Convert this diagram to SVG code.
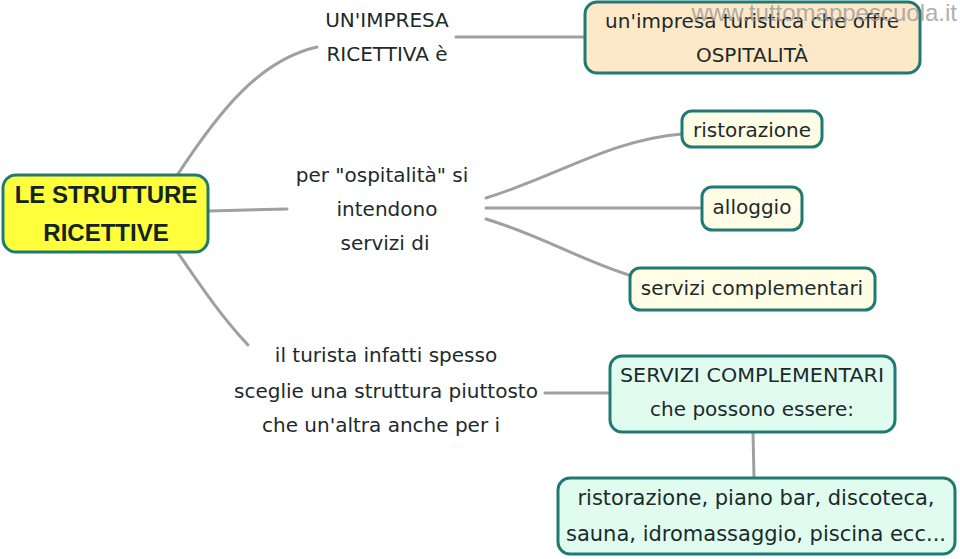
<svg xmlns="http://www.w3.org/2000/svg" width="960" height="559" viewBox="0 0 960 559">
<style>
.t{font-family:"DejaVu Sans","Liberation Sans",sans-serif;font-size:20px;fill:#1c2a2c;text-anchor:middle}
.l{font-size:21px}
.b{font-family:"Liberation Sans",Arial,sans-serif;font-weight:bold;font-size:24px;fill:#14241c}
.node{stroke:#1f7a74;stroke-width:3}
.c{fill:none;stroke:#a0a0a0;stroke-width:3;stroke-linecap:round}
.wm{font-family:"Liberation Sans",Arial,sans-serif;font-size:24px;fill:#9a9a9a;fill-opacity:0.8}
</style>
<rect width="960" height="559" fill="#ffffff"/>
<g id="connectors">
<path class="c" d="M178,174 C220,110 260,60 317,47"/>
<path class="c" d="M456,37 L585,37"/>
<path class="c" d="M209,211 L287,209"/>
<path class="c" d="M486,198 C560,175 610,140 682,134"/>
<path class="c" d="M486,208 L702,208"/>
<path class="c" d="M486,219 C540,235 580,260 632,276"/>
<path class="c" d="M178,253 C200,285 220,315 248,345"/>
<path class="c" d="M545,393 L610,393"/>
<path class="c" d="M753,432 L754,478"/>
</g>
<g id="center">
<rect class="node" x="3" y="175" width="205" height="77" rx="13" fill="#ffff3c"/>
<text class="t b" x="106" y="203">LE STRUTTURE</text>
<text class="t b" x="106" y="241">RICETTIVE</text>
</g>
<g id="lbl-impresa">
<text class="t" x="387" y="27">UN'IMPRESA</text>
<text class="t" x="387" y="61">RICETTIVA è</text>
</g>
<g id="impresa">
<rect class="node" x="585" y="2" width="335" height="71" rx="12" fill="#fde8c8"/>
<text class="t" x="752" y="28">un'impresa turistica che offre</text>
<text class="t" x="752" y="62">OSPITALITÀ</text>
</g>
<g id="lbl-ospitalita">
<text class="t" x="382" y="182">per "ospitalità" si</text>
<text class="t" x="387" y="216">intendono</text>
<text class="t" x="385" y="250">servizi di</text>
</g>
<g id="ristorazione">
<rect class="node" x="682" y="111" width="140" height="36" rx="10" fill="#fffde5"/>
<text class="t" x="752" y="137">ristorazione</text>
</g>
<g id="alloggio">
<rect class="node" x="702" y="187" width="100" height="43" rx="10" fill="#fffde5"/>
<text class="t" x="752" y="214">alloggio</text>
</g>
<g id="servizi">
<rect class="node" x="630" y="268" width="245" height="42" rx="10" fill="#fffde5"/>
<text class="t" x="752" y="295">servizi complementari</text>
</g>
<g id="lbl-turista">
<text class="t" x="386" y="362">il turista infatti spesso</text>
<text class="t" x="386" y="398">sceglie una struttura piuttosto</text>
<text class="t" x="381" y="432">che un'altra anche per i</text>
</g>
<g id="complementari">
<rect class="node" x="610" y="356" width="285" height="76" rx="12" fill="#e0fcee"/>
<text class="t" x="752" y="382" textLength="264" lengthAdjust="spacingAndGlyphs">SERVIZI COMPLEMENTARI</text>
<text class="t" x="752" y="416">che possono essere:</text>
</g>
<g id="elenco">
<rect class="node" x="558" y="478" width="397" height="76" rx="12" fill="#e0fcee"/>
<text class="t l" x="756" y="505">ristorazione, piano bar, discoteca,</text>
<text class="t l" x="756" y="541">sauna, idromassaggio, piscina ecc...</text>
</g>
<text class="wm" x="957" y="21" text-anchor="end">www.tuttomappescuola.it</text>
</svg>
